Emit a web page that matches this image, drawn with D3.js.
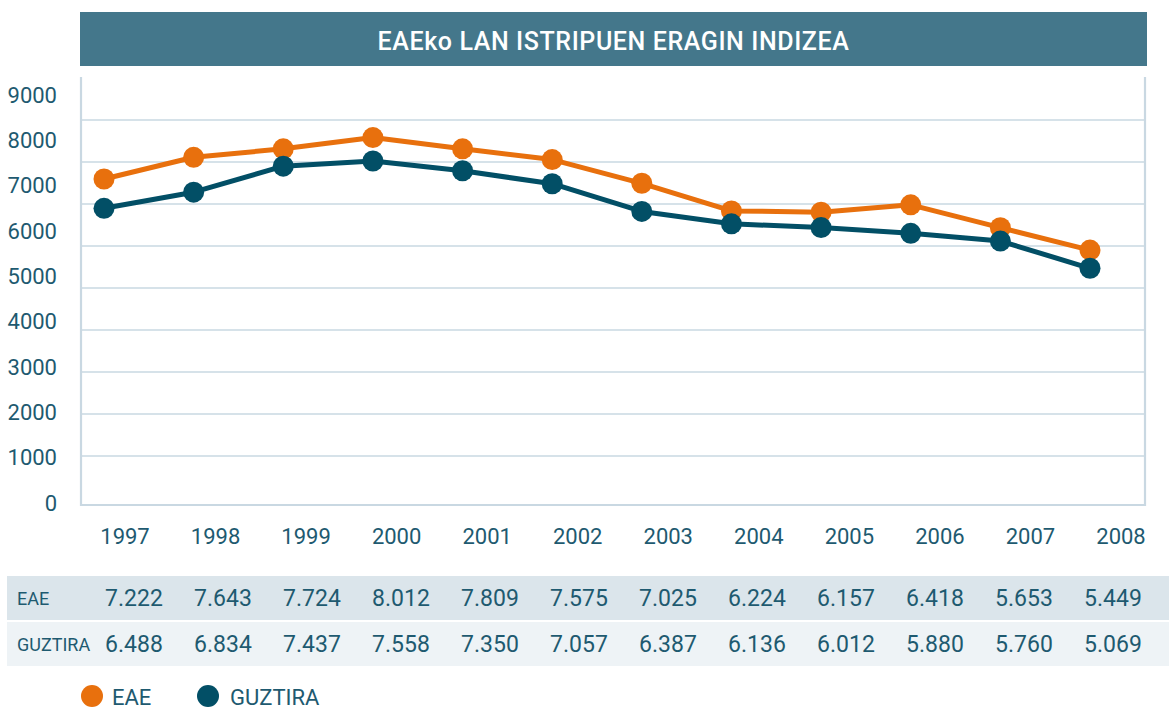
<!DOCTYPE html>
<html>
<head>
<meta charset="utf-8">
<script src="https://cdn.jsdelivr.net/npm/d3@7"></script>
<style>
  html, body { margin: 0; padding: 0; background: #ffffff; }
  svg { display: block; font-family: Roboto, "Noto Sans", sans-serif; }
</style>
</head>
<body>
<svg id="chart" width="1169" height="708"></svg>
<script>
// ---- data ----
const title = "EAEko LAN ISTRIPUEN ERAGIN INDIZEA";
const years = ["1997","1998","1999","2000","2001","2002","2003","2004","2005","2006","2007","2008"];
const seriesNames = ["EAE", "GUZTIRA"];
// values printed in the table
const eaeTable = [7222, 7643, 7724, 8012, 7809, 7575, 7025, 6224, 6157, 6418, 5653, 5449];
const guztiraTable = [6488, 6834, 7437, 7558, 7350, 7057, 6387, 6136, 6012, 5880, 5760, 5069];
// values as plotted by the lines
const eaeLine = [7140, 7643, 7840, 8100, 7840, 7590, 7040, 6400, 6370, 6540, 6010, 5490];
const guztiraLine = [6460, 6834, 7437, 7558, 7330, 7030, 6387, 6100, 6012, 5880, 5700, 5069];
const yTicks = [0, 1000, 2000, 3000, 4000, 5000, 6000, 7000, 8000, 9000];
const gridSteps = [1, 2, 3, 4, 5, 6, 7, 8, 9];

(function () {
// ---- styles ----
const C_ORANGE = "#e8700d";
const C_TEAL = "#024f66";
const C_TEXT = "#1e5a70";
const C_BAR = "#44778b";
const C_GRID = "#c9d8e2";

const svg = d3.select("#chart");
const loc = d3.formatLocale({decimal: ",", thousands: ".", grouping: [3], currency: ["", ""]});
const fmt = loc.format(",d");

// frame geometry
const fLeft = 81, fRight = 1145, fTop = 77, fBottom = 505;

// scales
const x = d3.scalePoint().domain(years).range([104, 1090]);
const xLabel = d3.scalePoint().domain(years).range([125, 1121]);
const xTable = d3.scalePoint().domain(years).range([134, 1113]);
const y = d3.scaleLinear().domain([0, 9000]).range([486.8, 98.8]);
const yLabel = d3.scaleLinear().domain([0, 9000]).range([503, 95]);
const yGrid = d3.scaleLinear().domain([0, 10]).range([498, 78]);

// title bar
svg.append("rect").attr("x", 80).attr("y", 12).attr("width", 1067).attr("height", 54).attr("fill", C_BAR);
svg.append("text").attr("x", 613.5).attr("y", 41).attr("text-anchor", "middle")
  .attr("dominant-baseline", "central")
  .attr("fill", "#ffffff").attr("font-size", 25).attr("font-weight", 500)
  .attr("letter-spacing", 0.6)
  .text(title);

// gridlines
svg.append("g").selectAll("line").data(gridSteps).join("line")
  .attr("x1", fLeft).attr("x2", fRight)
  .attr("y1", d => yGrid(d)).attr("y2", d => yGrid(d))
  .attr("stroke", C_GRID).attr("stroke-width", 1.6);

// frame (left, right, bottom)
svg.append("path")
  .attr("d", `M${fLeft},${fTop}V${fBottom}H${fRight}V${fTop}`)
  .attr("fill", "none").attr("stroke", C_GRID).attr("stroke-width", 2.2);

// y labels
svg.append("g").selectAll("text").data(yTicks).join("text")
  .attr("x", 57).attr("y", d => yLabel(d))
  .attr("text-anchor", "end").attr("dominant-baseline", "central")
  .attr("fill", C_TEXT).attr("font-size", 22)
  .text(d => d);

// x labels
svg.append("g").selectAll("text").data(years).join("text")
  .attr("x", d => xLabel(d)).attr("y", 536)
  .attr("text-anchor", "middle").attr("dominant-baseline", "central")
  .attr("fill", C_TEXT).attr("font-size", 22)
  .text(d => d);

// lines
const lineGen = d3.line().x(d => x(d.year)).y(d => y(d.value));
const series = [
  {name: seriesNames[0], color: C_ORANGE, values: eaeLine},
  {name: seriesNames[1], color: C_TEAL, values: guztiraLine}
];
series.forEach(s => {
  const pts = years.map((yr, i) => ({year: yr, value: s.values[i]}));
  const g = svg.append("g");
  g.append("path").datum(pts).attr("d", lineGen)
    .attr("fill", "none").attr("stroke", s.color).attr("stroke-width", 5)
    .attr("stroke-linejoin", "round");
  g.selectAll("circle").data(pts).join("circle")
    .attr("cx", d => x(d.year)).attr("cy", d => y(d.value)).attr("r", 10.5)
    .attr("fill", s.color);
});

// table
const rows = [
  {name: seriesNames[0], values: eaeTable, y: 576, fill: "#dbe5eb"},
  {name: seriesNames[1], values: guztiraTable, y: 622, fill: "#eef3f6"}
];
rows.forEach(r => {
  svg.append("rect").attr("x", 7).attr("y", r.y).attr("width", 1162).attr("height", 44).attr("fill", r.fill);
  svg.append("text").attr("x", 17).attr("y", r.y + 22)
    .attr("dominant-baseline", "central").attr("fill", C_TEXT).attr("font-size", 18)
    .text(r.name);
  svg.append("g").selectAll("text").data(r.values).join("text")
    .attr("x", (d, i) => xTable(years[i])).attr("y", r.y + 22)
    .attr("text-anchor", "middle").attr("dominant-baseline", "central")
    .attr("fill", C_TEXT).attr("font-size", 23)
    .text(d => fmt(d));
});

// legend
const legend = [
  {name: seriesNames[0], color: C_ORANGE, cx: 92, tx: 112},
  {name: seriesNames[1], color: C_TEAL, cx: 208, tx: 230}
];
legend.forEach(l => {
  svg.append("circle").attr("cx", l.cx).attr("cy", 696).attr("r", 11).attr("fill", l.color);
  svg.append("text").attr("x", l.tx).attr("y", 697).attr("dominant-baseline", "central")
    .attr("fill", C_TEXT).attr("font-size", 22).text(l.name);
});
})();
</script>
</body>
</html>
